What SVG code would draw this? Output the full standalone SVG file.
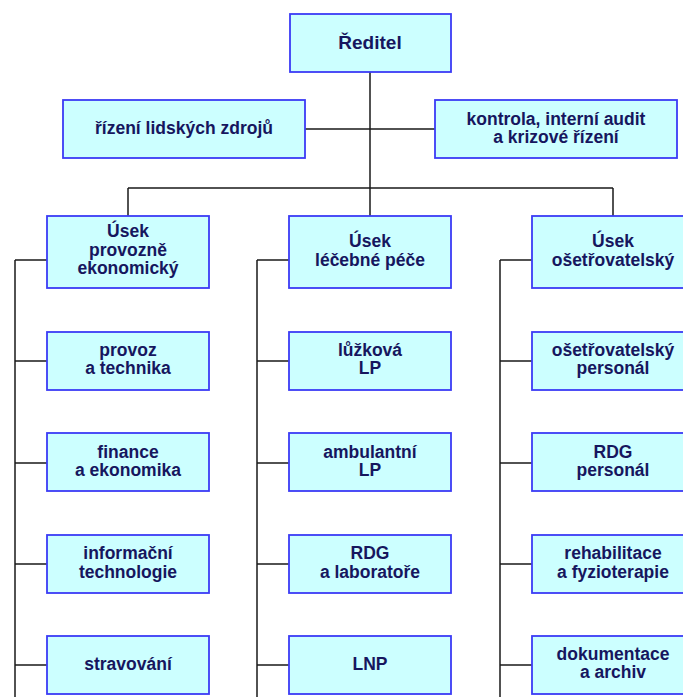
<svg xmlns="http://www.w3.org/2000/svg" width="683" height="697" viewBox="0 0 683 697">
<style>
.box{fill:#ccffff;stroke:#3b3bf5;stroke-width:1.8}
.t{font-family:"Liberation Sans",Arial,sans-serif;font-weight:bold;font-size:17.5px;fill:#16165e;text-anchor:middle}
.big{font-size:19px}
.c{stroke:#1a1a1a;stroke-width:1.5;fill:none}
</style>
<rect width="683" height="697" fill="#ffffff"/>
<g id="connectors">
<path class="c" d="M370,72V188M305,129H435M128,188H613M128,188V216M370,188V216M613,188V216"/>
<path class="c" d="M15,260V697M15,260H47M15,361H47M15,463H47M15,564H47M15,665H47"/>
<path class="c" d="M257,260V697M257,260H289M257,361H289M257,463H289M257,564H289M257,665H289"/>
<path class="c" d="M500,260V697M500,260H532M500,361H532M500,463H532M500,564H532M500,665H532"/>
</g>
<g id="reditel"><rect class="box" x="290" y="14" width="161" height="58"/><text class="t big" x="370" y="49">Ředitel</text></g>
<g id="lidske-zdroje"><rect class="box" x="63" y="100" width="242" height="58"/><text class="t" x="184" y="134">řízení lidských zdrojů</text></g>
<g id="kontrola"><rect class="box" x="435" y="100" width="242" height="58"/><text class="t" x="556" y="125">kontrola, interní audit</text><text class="t" x="556" y="143">a krizové řízení</text></g>

<g id="usek-provozne"><rect class="box" x="47" y="216" width="162" height="72"/><text class="t" x="128" y="237">Úsek</text><text class="t" x="128" y="256">provozně</text><text class="t" x="128" y="274">ekonomický</text></g>
<g id="provoz"><rect class="box" x="47" y="332" width="162" height="58"/><text class="t" x="128" y="356">provoz</text><text class="t" x="128" y="374">a technika</text></g>
<g id="finance"><rect class="box" x="47" y="433" width="162" height="58"/><text class="t" x="128" y="458">finance</text><text class="t" x="128" y="476">a ekonomika</text></g>
<g id="it"><rect class="box" x="47" y="535" width="162" height="58"/><text class="t" x="128" y="559">informační</text><text class="t" x="128" y="578">technologie</text></g>
<g id="stravovani"><rect class="box" x="47" y="636" width="162" height="58"/><text class="t" x="128" y="670">stravování</text></g>

<g id="usek-lecebne"><rect class="box" x="289" y="216" width="162" height="72"/><text class="t" x="370" y="247">Úsek</text><text class="t" x="370" y="266">léčebné péče</text></g>
<g id="luzkova"><rect class="box" x="289" y="332" width="162" height="58"/><text class="t" x="370" y="356">lůžková</text><text class="t" x="370" y="374">LP</text></g>
<g id="ambulantni"><rect class="box" x="289" y="433" width="162" height="58"/><text class="t" x="370" y="458">ambulantní</text><text class="t" x="370" y="476">LP</text></g>
<g id="rdg-lab"><rect class="box" x="289" y="535" width="162" height="58"/><text class="t" x="370" y="559">RDG</text><text class="t" x="370" y="578">a laboratoře</text></g>
<g id="lnp"><rect class="box" x="289" y="636" width="162" height="58"/><text class="t" x="370" y="670">LNP</text></g>

<g id="usek-osetrovatelsky"><rect class="box" x="532" y="216" width="162" height="72"/><text class="t" x="613" y="247">Úsek</text><text class="t" x="613" y="266">ošetřovatelský</text></g>
<g id="osetr-personal"><rect class="box" x="532" y="332" width="162" height="58"/><text class="t" x="613" y="356">ošetřovatelský</text><text class="t" x="613" y="374">personál</text></g>
<g id="rdg-personal"><rect class="box" x="532" y="433" width="162" height="58"/><text class="t" x="613" y="458">RDG</text><text class="t" x="613" y="476">personál</text></g>
<g id="rehabilitace"><rect class="box" x="532" y="535" width="162" height="58"/><text class="t" x="613" y="559">rehabilitace</text><text class="t" x="613" y="578">a fyzioterapie</text></g>
<g id="dokumentace"><rect class="box" x="532" y="636" width="162" height="58"/><text class="t" x="613" y="660">dokumentace</text><text class="t" x="613" y="678">a archiv</text></g>
</svg>
